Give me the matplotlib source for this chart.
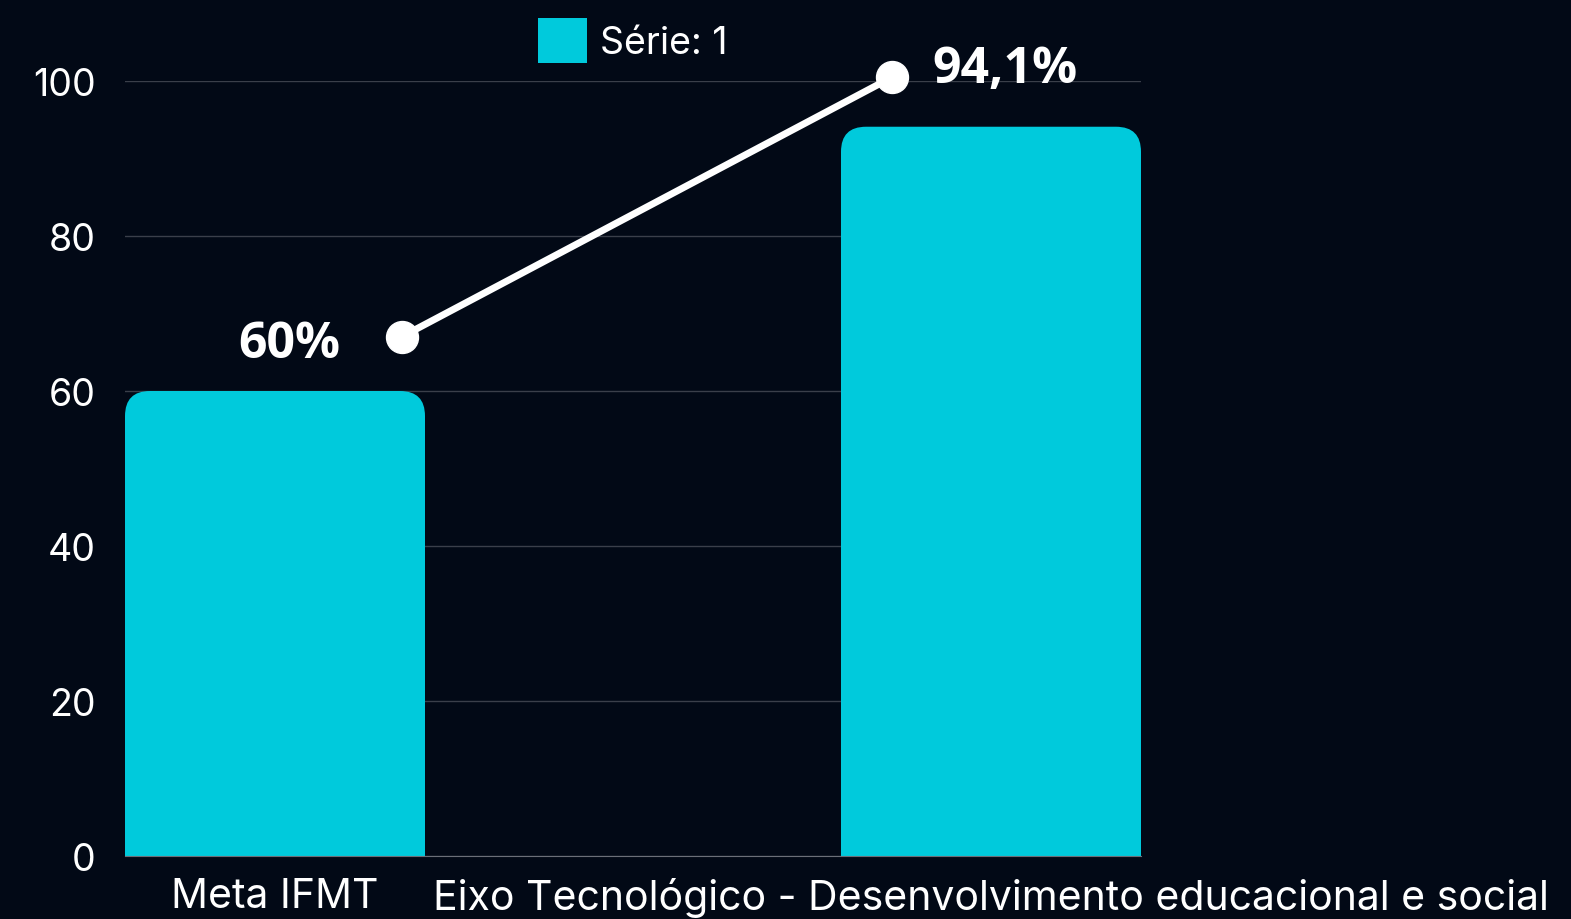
import numpy as np
import matplotlib
matplotlib.use('Agg')
import matplotlib.pyplot as plt
from matplotlib.patches import FancyBboxPatch, Rectangle, Patch

categories = ['Meta IFMT', 'Eixo Tecnológico - Desenvolvimento educacional e social']
values = [60, 94.1]
value_labels = ['60%', '94,1%']
series_name = 'Série: 1'
# decorative trend line drawn over the bars
trend_x = [0.177, 0.862]
trend_y = [67.0, 100.5]
label_x = [0.02, 1.02]
label_y = [66.0, 101.5]

bg = '#020916'
cyan = '#00CADC'

plt.rcParams['font.family'] = ['Inter', 'DejaVu Sans']

fig = plt.figure(figsize=(15.71, 9.20), dpi=100, facecolor=bg)
ax = fig.add_axes([125 / 1571, 1 - 857 / 920, 1016 / 1571, 775 / 920], facecolor=bg)

x = np.arange(len(categories))
width = 0.419
bars = ax.bar(x, values, width, color=cyan, zorder=2)

# rounded top corners
radius_x = 0.035
aspect = 716 / 7.75
for b in bars:
    b.set_visible(False)
    x0, w, h = b.get_x(), b.get_width(), b.get_height()
    ax.add_patch(FancyBboxPatch((x0, 0), w, h, boxstyle='round,pad=0,rounding_size=%f' % radius_x,
                                mutation_aspect=aspect, fc=cyan, ec='none', zorder=2))
    ax.add_patch(Rectangle((x0, 0), w, h / 2, fc=cyan, ec='none', zorder=2))

ax.plot(trend_x, trend_y, color='white', lw=5, marker='o', ms=23, zorder=4, clip_on=False)

for lx, ly, t in zip(label_x, label_y, value_labels):
    ax.text(lx, ly, t, ha='center', va='center', color='white', fontsize=36,
            fontweight='bold', family=['Open Sans', 'DejaVu Sans'], zorder=5, clip_on=False)

ax.set_xlim(-width / 2, 1 + width / 2)
ax.set_ylim(0, 100)
ax.set_yticks(np.arange(0, 101, 20))
ax.set_xticks(x)
ax.set_xticklabels(categories)
ax.tick_params(axis='both', length=0, colors='white')
ax.tick_params(axis='y', pad=21, labelsize=27)
ax.tick_params(axis='x', pad=15, labelsize=29.5)
ax.grid(axis='y', color='#3a3f4a', lw=1, zorder=0)
ax.set_axisbelow(True)
for s in ['top', 'right', 'left']:
    ax.spines[s].set_visible(False)
ax.spines['bottom'].set_color('#6b6f78')
ax.spines['bottom'].set_zorder(3)

handle = Patch(fc=cyan, ec='none')
leg = ax.legend([handle], [series_name], loc='upper center', bbox_to_anchor=(0.5, 1 + 63 / 775),
                frameon=False, fontsize=27, labelcolor='white', handlelength=1.3, handleheight=1.45,
                handletextpad=0.35, borderaxespad=0, borderpad=0)

fig.savefig('out.png', dpi=100, facecolor=bg)
